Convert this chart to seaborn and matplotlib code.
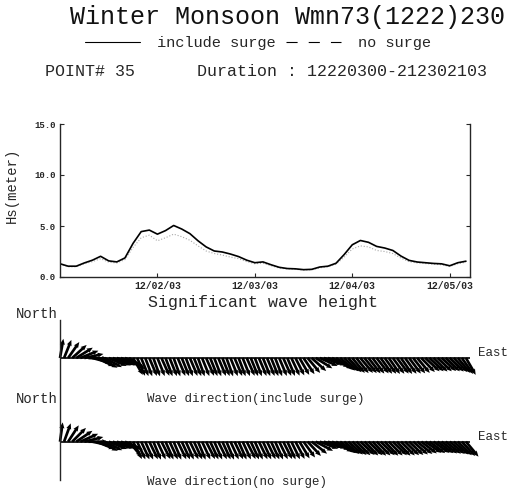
import matplotlib

matplotlib.use("Agg")
import matplotlib.pyplot as plt
import numpy as np
import pandas as pd
import seaborn as sns
from matplotlib.lines import Line2D

# Significant wave height, every 2 hours from 12/01 03h
hours_hs = list(range(0, 101, 2))
hs_surge = [
    1.30, 1.06, 1.06, 1.38, 1.65, 2.03, 1.58, 1.48, 1.87, 3.30,
    4.45, 4.60, 4.20, 4.55, 5.05, 4.70, 4.25, 3.55, 2.95, 2.55,
    2.45, 2.25, 2.00, 1.65, 1.40, 1.48, 1.20, 0.95, 0.83, 0.80,
    0.72, 0.75, 0.98, 1.06, 1.35, 2.20, 3.16, 3.58, 3.40, 3.00,
    2.84, 2.60, 2.05, 1.63, 1.47, 1.40, 1.33, 1.29, 1.10, 1.40,
    1.55,
]
hs_nosurge = [
    1.25, 1.00, 1.00, 1.30, 1.50, 1.80, 1.45, 1.38, 1.70, 2.90,
    3.85, 4.10, 3.55, 3.85, 4.20, 3.95, 3.60, 3.05, 2.55, 2.30,
    2.15, 1.95, 1.80, 1.50, 1.30, 1.35, 1.10, 0.88, 0.78, 0.75,
    0.68, 0.70, 0.90, 1.00, 1.25, 1.95, 2.75, 3.05, 2.95, 2.60,
    2.50, 2.30, 1.85, 1.50, 1.38, 1.32, 1.25, 1.20, 1.03, 1.30,
    1.45,
]

# Wave direction (deg clockwise from north), hourly
hours_dir = list(range(0, 101))
dir_surge = [
    10, 22, 35, 48, 58, 68, 78, 92, 105, 115,
    120, 118, 114, 112, 111, 112, 113, 125, 150, 156,
    158, 159, 157, 160, 158, 156, 159, 158, 160, 157,
    158, 159, 157, 158, 160, 158, 156, 158, 159, 157,
    158, 160, 158, 157, 159, 158, 156, 158, 159, 157,
    158, 157, 158, 159, 157, 156, 157, 155, 153, 150,
    146, 140, 132, 122, 114, 110, 112, 118, 125, 130,
    133, 137, 140, 141, 140, 141, 142, 143, 142, 144,
    144, 145, 144, 143, 145, 144, 143, 142, 140, 136,
    133, 133, 134, 133, 132, 133, 134, 136, 140, 145,
    150,
]
dir_nosurge = [
    8, 20, 33, 45, 56, 66, 76, 90, 102, 112,
    118, 116, 112, 110, 110, 111, 114, 140, 153, 155,
    155, 156, 154, 157, 155, 153, 156, 155, 157, 154,
    155, 156, 154, 155, 157, 155, 153, 155, 156, 154,
    155, 157, 155, 154, 156, 155, 153, 155, 156, 154,
    155, 154, 155, 156, 154, 153, 155, 154, 152, 149,
    144, 137, 128, 118, 111, 108, 110, 115, 122, 126,
    129, 131, 133, 134, 133, 135, 134, 136, 135, 134,
    136, 135, 134, 136, 135, 134, 133, 131, 129, 127,
    125, 126, 125, 126, 127, 128, 129, 131, 134, 137,
    140,
]

day_ticks = [24, 48, 72, 96]
day_labels = ["12/02/03", "12/03/03", "12/04/03", "12/05/03"]

W, H = 514, 491
MONO = ["Liberation Mono", "DejaVu Sans Mono"]


def box(left, top, right, bottom):
    return [left / W, 1 - bottom / H, (right - left) / W, (bottom - top) / H]


def fx(x):
    return x / W


def fy(y):
    return 1 - y / H


sns.set_theme(style="ticks")
plt.rcParams["font.family"] = MONO

fig = plt.figure(figsize=(W / 100, H / 100), dpi=100)

# header
fig.text(fx(70), fy(17), "Winter Monsoon Wmn73(1222)230", fontsize=18,
         ha="left", va="center", color="#111111")
fig.legend(
    handles=[Line2D([0], [0], color="black", lw=0.8),
             Line2D([0], [0], color="black", lw=0.8, ls=(0, (10, 10)))],
    labels=["include surge", "no surge"],
    ncol=2, frameon=False, loc="center left",
    bbox_to_anchor=(fx(85), fy(43)), fontsize=11,
    handlelength=3.6, handletextpad=1.1, columnspacing=0.7,
    borderpad=0, borderaxespad=0,
)
fig.text(fx(45), fy(72), "POINT# 35", fontsize=12, ha="left", va="center")
fig.text(fx(197), fy(72), "Duration : 12220300-212302103", fontsize=12,
         ha="left", va="center")

# significant wave height
ax = fig.add_axes(box(60, 124, 470, 277))
df = pd.DataFrame({"hour": hours_hs, "surge": hs_surge, "nosurge": hs_nosurge})
sns.lineplot(data=df, x="hour", y="nosurge", ax=ax, color="#a8a8a8",
             lw=0.8, linestyle=":")
sns.lineplot(data=df, x="hour", y="surge", ax=ax, color="black", lw=1.2)
ax.set_xlim(0, 101)
ax.set_ylim(0, 15)
ax.set_yticks([0, 5, 10, 15])
ax.set_yticklabels(["0.0", "5.0", "10.0", "15.0"], fontsize=6.5,
                   fontweight="bold")
ax.set_xticks(day_ticks)
ax.set_xticklabels(day_labels, fontsize=7, fontweight="bold")
ax.tick_params(direction="in", length=3, width=0.8, right=True, pad=3)
ax.spines["top"].set_visible(False)
for s in ["left", "right", "bottom"]:
    ax.spines[s].set_linewidth(1.0)
ax.set_ylabel("Hs(meter)", fontsize=10)
ax.yaxis.set_label_coords(-0.1, 0.6)
ax.set_xlabel("Significant wave height", fontsize=12, ha="left")
ax.xaxis.set_label_coords((148 - 60) / 410, -0.12)

# wave direction sticks
ax2 = fig.add_axes(box(60, 320, 470, 480))
px_per_unit = 410 / 101
top_units = (358 - 320) / px_per_unit
ax2.set_xlim(0, 101)
ax2.set_ylim(top_units - 160 / px_per_unit, top_units)
base2 = -(441.7 - 358) / px_per_unit
stick = 19.5 / px_per_unit

for base, dirs in [(0.0, dir_surge), (base2, dir_nosurge)]:
    th = np.radians(dirs)
    ax2.axhline(base, color="black", lw=1.2)
    ax2.quiver(hours_dir, np.full(len(hours_dir), base),
               stick * np.sin(th), stick * np.cos(th),
               angles="xy", scale_units="xy", scale=1, units="dots",
               width=2.7, headwidth=1.9, headlength=2.2, headaxislength=2.0,
               color="black", clip_on=False)

ax2.set_xticks([])
ax2.set_yticks([])
for s in ["top", "right", "bottom"]:
    ax2.spines[s].set_visible(False)
ax2.spines["left"].set_linewidth(1.0)

fig.text(fx(58), fy(314), "North", fontsize=10, ha="right", va="center")
fig.text(fx(58), fy(399), "North", fontsize=10, ha="right", va="center")
fig.text(fx(478), fy(353), "East", fontsize=9, ha="left", va="center")
fig.text(fx(478), fy(437), "East", fontsize=9, ha="left", va="center")
fig.text(fx(147), fy(399), "Wave direction(include surge)", fontsize=9,
         ha="left", va="center")
fig.text(fx(147), fy(482), "Wave direction(no surge)", fontsize=9,
         ha="left", va="center")

fig.savefig("out.png", dpi=100, facecolor="white")
